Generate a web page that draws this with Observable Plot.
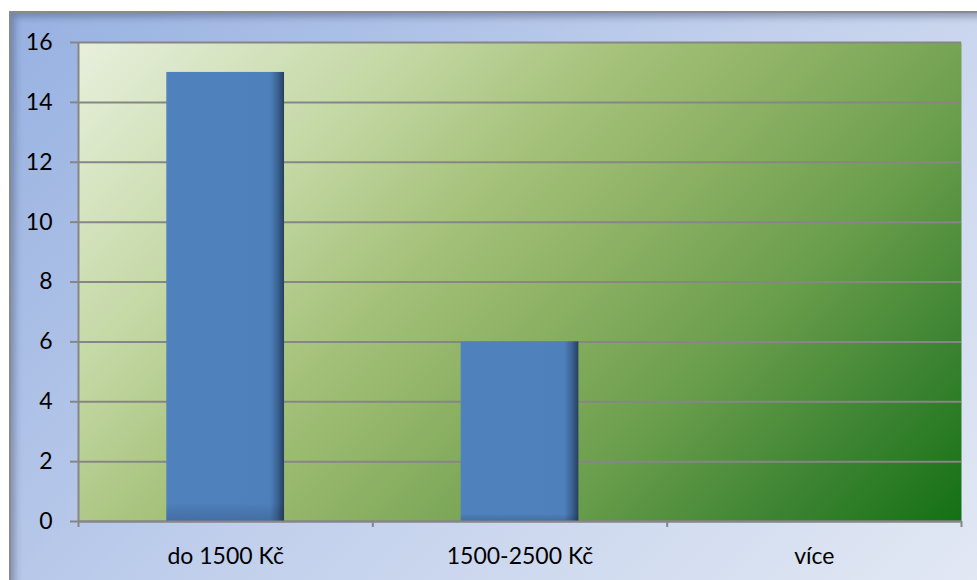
<!DOCTYPE html>
<html>
<head>
<meta charset="utf-8">
<script src="https://cdn.jsdelivr.net/npm/d3@7"></script>
<script src="https://cdn.jsdelivr.net/npm/@observablehq/plot@0.6"></script>
<style>
  html, body { margin: 0; padding: 0; background: #fff; }
  #wrap { position: relative; width: 977px; height: 580px; overflow: hidden; }
  #bg {
    position: absolute; left: 9px; top: 11px; width: 980px; height: 580px;
    border-top: 2px solid #8a8a8a; border-left: 2px solid #8a8a8a;
    background: linear-gradient(135deg, #97b1e1 0%, #c2d0ec 50%, #e3e9f4 100%);
    box-shadow: inset 4px 4px 7px rgba(40,50,80,0.35);
  }
  #chart { position: absolute; left: 0; top: 0; }
</style>
</head>
<body>
<div id="wrap"><div id="bg"></div><div id="chart"></div></div>
<script>
const categories = ["do 1500 Kč", "1500-2500 Kč", "více"];
const values = [15, 6, 0];
const yTicks = [0, 2, 4, 6, 8, 10, 12, 14, 16];

const data = categories.map((c, i) => ({i, category: c, value: values[i]}));
const boundaries = d3.range(categories.length + 1).map(k => k - 0.5);

const W = 977, H = 580;
const mL = 78, mR = 16, mT = 42, mB = 59;
const gridColor = "#868686";
const font = "Lato, 'Open Sans', sans-serif";

function defs() {
  const ns = "http://www.w3.org/2000/svg";
  const d = document.createElementNS(ns, "defs");
  const pw = W - mL - mR, ph = H - mT - mB;
  const len = (pw + ph) / 2;
  const mk = (id, attrs, stops) => {
    const g = document.createElementNS(ns, "linearGradient");
    g.setAttribute("id", id);
    for (const k in attrs) g.setAttribute(k, attrs[k]);
    for (const [o, c] of stops) {
      const s = document.createElementNS(ns, "stop");
      s.setAttribute("offset", o);
      s.setAttribute("stop-color", c);
      g.appendChild(s);
    }
    d.appendChild(g);
  };
  mk("plotbg", {gradientUnits: "userSpaceOnUse", x1: mL, y1: mT, x2: mL + len, y2: mT + len}, [
    [0, "#e8f0dd"], [0.25, "#c3d7a3"], [0.4, "#a6c27b"], [0.55, "#8bb062"],
    [0.7, "#6a9e4c"], [0.85, "#3f8533"], [1, "#147014"]
  ]);
  mk("bargrad", {x1: 0, y1: 0, x2: 1, y2: 0}, [
    [0, "#5183bf"], [0.02, "#4f81bd"], [0.88, "#4e80bb"], [0.94, "#3d6698"], [1, "#273f60"]
  ]);
  mk("barshade", {x1: 0, y1: 0, x2: 0, y2: 1}, [
    [0, "rgba(0,0,0,0)"], [0.96, "rgba(0,0,0,0)"], [1, "rgba(20,30,60,0.18)"]
  ]);
  return d;
}

const chart = Plot.plot({
  width: W, height: H,
  marginLeft: mL, marginRight: mR, marginTop: mT, marginBottom: mB,
  style: {background: "transparent", fontFamily: font, fontSize: "23px", color: "#000", overflow: "visible"},
  x: {type: "linear", domain: [-0.5, categories.length - 0.5]},
  y: {domain: [0, 16]},
  marks: [
    defs,
    Plot.frame({fill: "url(#plotbg)", stroke: "none"}),
    Plot.gridY({ticks: yTicks, stroke: gridColor, strokeOpacity: 1, strokeWidth: 2}),
    Plot.rectY(data, {x1: d => d.i - 0.2, x2: d => d.i + 0.2, y: "value", fill: "url(#bargrad)"}),
    Plot.rectY(data, {x1: d => d.i - 0.2, x2: d => d.i + 0.2, y: "value", fill: "url(#barshade)"}),
    Plot.ruleX([-0.5], {stroke: gridColor, strokeWidth: 2}),
    Plot.ruleY([0], {stroke: gridColor, strokeWidth: 2}),
    Plot.axisY({ticks: yTicks, tickSize: 8, tickPadding: 18, stroke: gridColor, strokeWidth: 2,
      fontSize: 23, label: null}),
    Plot.axisX({ticks: boundaries, tickSize: 6, tickFormat: () => "", stroke: gridColor, strokeWidth: 2, label: null}),
    Plot.axisX({ticks: d3.range(categories.length), tickSize: 0, tickPadding: 26,
      tickFormat: i => categories[i], fontSize: 23, label: null})
  ]
});
document.getElementById("chart").appendChild(chart);
</script>
</body>
</html>
